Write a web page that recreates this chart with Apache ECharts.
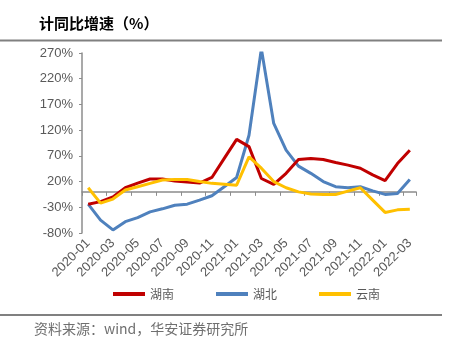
<!DOCTYPE html>
<html>
<head>
<meta charset="utf-8">
<script src="https://cdn.jsdelivr.net/npm/echarts@6/dist/echarts.min.js"></script>
<style>html,body{margin:0;padding:0;background:#fff;}#c{width:466px;height:356px;}</style>
</head>
<body>
<div id="c"></div>
<script>
const categories = ['2020-01','2020-02','2020-03','2020-04','2020-05','2020-06','2020-07','2020-08','2020-09','2020-10','2020-11','2020-12',
  '2021-01','2021-02','2021-03','2021-04','2021-05','2021-06','2021-07','2021-08','2021-09','2021-10','2021-11','2021-12',
  '2022-01','2022-02','2022-03'];
const hunan = [-24,-19,-10,8,17,25,25,21,19,17,28,65,102,88,26,14.5,36,63,65,63,57,52,46,33,22,55,81];
const hubei = [-24,-55,-74,-58,-50,-39,-33,-26,-24,-16,-7.5,10,28,110,278,133,81,50,36,20,10,8,10,2,-5,-3,24];
const yunnan = [8,-22,-14,3.5,10,16.5,23,24,24,20,16.5,15,13,68,46,20,8,0,-4,-5,-5,1.5,8,-16,-40,-35,-34];
const yTicks = {min:-80, max:270, interval:50};

const chart = echarts.init(document.getElementById('c'));
const gray = '#595959';
const axisGray = '#8c8c8c';
chart.setOption({
  animation:false,
  backgroundColor:'#fff',
  title:{text:'计同比增速（%）', left:34, top:11,
    textStyle:{fontFamily:'Noto Sans CJK SC', fontSize:15, fontWeight:'bold', color:'#000'}},
  graphic:[
    {type:'line', shape:{x1:0,y1:40.5,x2:442,y2:40.5}, style:{stroke:'#808080', lineWidth:2}},
    {type:'line', shape:{x1:0,y1:315,x2:442,y2:315}, style:{stroke:'#808080', lineWidth:2}},
    {type:'text', left:34, top:322, style:{text:'资料来源：wind，华安证券研究所', fill:'#6f6f6f',
      font:'14px "Noto Sans CJK SC"'}}
  ],
  grid:{left:82, right:50, top:53, bottom:123, containLabel:false},
  legend:{left:108, top:283, itemWidth:32, itemHeight:4, itemGap:42, icon:'rect',
    textStyle:{fontFamily:'Noto Sans CJK SC', fontSize:12, color:gray},
    data:['湖南','湖北','云南']},
  xAxis:[
    {type:'category', data:categories, position:'bottom', boundaryGap:true,
      axisLine:{show:false, onZero:false}, axisTick:{show:false},
      axisLabel:{interval:1, rotate:45, margin:8, color:gray, fontFamily:'Liberation Sans', fontSize:13}},
    {type:'category', data:categories, position:'bottom', boundaryGap:true,
      axisLine:{show:true, onZero:true, lineStyle:{color:axisGray, width:1.5}},
      axisTick:{show:true, interval:1, length:4, lineStyle:{color:axisGray}},
      axisLabel:{show:false}}
  ],
  yAxis:{type:'value', min:yTicks.min, max:yTicks.max, interval:yTicks.interval,
    axisLine:{show:true, lineStyle:{color:axisGray, width:1.5}},
    axisTick:{show:true, length:3, lineStyle:{color:axisGray}},
    splitLine:{show:false},
    axisLabel:{formatter:'{value}%', margin:9, color:gray, fontFamily:'Liberation Sans', fontSize:13}},
  series:[
    {name:'湖南', type:'line', data:hunan, symbol:'none', lineStyle:{width:3, color:'#C00000'}, itemStyle:{color:'#C00000'}, z:3},
    {name:'湖北', type:'line', data:hubei, symbol:'none', lineStyle:{width:3, color:'#4F81BD'}, itemStyle:{color:'#4F81BD'}, z:2},
    {name:'云南', type:'line', data:yunnan, symbol:'none', lineStyle:{width:3, color:'#FFC000'}, itemStyle:{color:'#FFC000'}, z:4}
  ]
});
</script>
</body>
</html>
